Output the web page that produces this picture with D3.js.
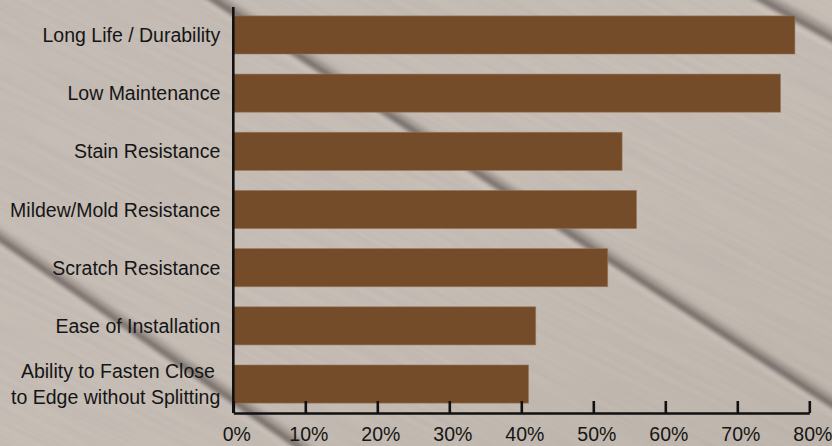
<!DOCTYPE html>
<html>
<head>
<meta charset="utf-8">
<script src="https://cdn.jsdelivr.net/npm/d3@7"></script>
<style>
  html, body { margin: 0; padding: 0; background: #c3bab2; }
  svg { display: block; }
  text { font-family: "Liberation Sans", Arial, Helvetica, sans-serif; fill: #151515; }
</style>
</head>
<body>
<div id="chart"></div>
<script>
// ---- data ----
const categories = [
  "Long Life / Durability",
  "Low Maintenance",
  "Stain Resistance",
  "Mildew/Mold Resistance",
  "Scratch Resistance",
  "Ease of Installation",
  "Ability to Fasten Close \nto Edge without Splitting"
];
const values = [78, 76, 54, 56, 52, 42, 41];
const xTicks = [0, 10, 20, 30, 40, 50, 60, 70, 80];
const xTickLabels = ["0%", "10%", "20%", "30%", "40%", "50%", "60%", "70%", "80%"];

const W = 832, H = 446;
const margin = {left: 233.3, right: 22.7, top: 6, bottom: 33};

const svg = d3.select("#chart").append("svg")
  .attr("width", W).attr("height", H);

// ---- background: decking boards ----
const defs = svg.append("defs");
const grad = defs.append("linearGradient").attr("id", "bgGrad")
  .attr("x1", "0").attr("y1", "0").attr("x2", "1").attr("y2", "1");
grad.append("stop").attr("offset", "0%").attr("stop-color", "#c5bcb5");
grad.append("stop").attr("offset", "50%").attr("stop-color", "#c7beb6");
grad.append("stop").attr("offset", "100%").attr("stop-color", "#bfb6ad");

const grain = defs.append("filter").attr("id", "grain")
  .attr("x", 0).attr("y", 0).attr("width", "100%").attr("height", "100%");
grain.append("feTurbulence").attr("type", "fractalNoise")
  .attr("baseFrequency", "0.008 0.2").attr("numOctaves", 3).attr("seed", 7);
grain.append("feColorMatrix").attr("type", "matrix")
  .attr("values", "0 0 0 0 0.40  0 0 0 0 0.37  0 0 0 0 0.35  0 0 0 -1.4 0.95");

const blur = defs.append("filter").attr("id", "blur")
  .attr("x", "-20%").attr("y", "-20%").attr("width", "140%").attr("height", "140%");
blur.append("feGaussianBlur").attr("stdDeviation", 2.5);

const bg = svg.append("g").attr("class", "background");
bg.append("rect").attr("width", W).attr("height", H).attr("fill", "url(#bgGrad)");
bg.append("rect")
  .attr("x", -400).attr("y", -400).attr("width", 1700).attr("height", 1300)
  .attr("transform", "rotate(27 416 223)")
  .attr("filter", "url(#grain)")
  .attr("opacity", 0.28);

const gaps = [
  [[205, -6], [420, 135], [620, 267], [845, 413]],
  [[755, -4], [845, 46]],
  [[-10, 232], [120, 322], [240, 405], [310, 455]]
];
const gapLine = d3.line().curve(d3.curveBasis);
gaps.forEach(g => {
  bg.append("path").attr("d", gapLine(g.map(p => [p[0], p[1] + 6])))
    .attr("fill", "none").attr("stroke", "#ddd5cd").attr("stroke-width", 5)
    .attr("opacity", 0.6).attr("filter", "url(#blur)");
  bg.append("path").attr("d", gapLine(g.map(p => [p[0], p[1] - 3])))
    .attr("fill", "none").attr("stroke", "#857b74").attr("stroke-width", 12)
    .attr("opacity", 0.5).attr("filter", "url(#blur)");
  bg.append("path").attr("d", gapLine(g))
    .attr("fill", "none").attr("stroke", "#3e3634").attr("stroke-width", 3.5)
    .attr("opacity", 0.7).attr("filter", "url(#blur)");
});

// ---- scales ----
const x = d3.scaleLinear().domain([0, 80]).range([margin.left, W - margin.right]);
const y = d3.scaleBand().domain(categories)
  .range([margin.top, H - margin.bottom])
  .paddingInner(0.345).paddingOuter(0.17);

// ---- bars ----
svg.append("g").selectAll("rect").data(values).join("rect")
  .attr("x", x(0))
  .attr("y", (d, i) => y(categories[i]))
  .attr("width", d => x(d) - x(0))
  .attr("height", y.bandwidth())
  .attr("fill", "#744c29")
  .attr("stroke", "#9a7558").attr("stroke-width", 0.8).attr("stroke-opacity", 0.7);

// ---- y axis (line only) + labels ----
const yAxis = svg.append("g").attr("transform", `translate(${x(0)},0)`)
  .call(d3.axisLeft(y).tickSize(0).tickFormat(""));
yAxis.select(".domain").attr("stroke", "#111").attr("stroke-width", 2.6)
  .attr("d", `M0,${margin.top + 1}V${H - margin.bottom}`);

const labels = svg.append("g").selectAll("text").data(categories).join("text")
  .attr("text-anchor", "end")
  .attr("font-size", "19.5px")
  .style("white-space", "pre")
  .attr("transform", d => `translate(${x(0) - 13},${y(d) + y.bandwidth() / 2})`);
labels.each(function(d) {
  const lines = d.split("\n");
  const lh = 25.5;
  const t = d3.select(this);
  lines.forEach((ln, k) => {
    t.append("tspan").attr("x", 0)
      .attr("y", 7 + (k - (lines.length - 1) / 2) * lh)
      .text(ln);
  });
});

// ---- x axis ----
const xAxis = svg.append("g").attr("transform", `translate(0,${H - margin.bottom})`)
  .call(d3.axisBottom(x).tickValues(xTicks).tickSize(-12).tickSizeOuter(0)
    .tickFormat((d, i) => xTickLabels[i]));
xAxis.select(".domain").attr("stroke", "#111").attr("stroke-width", 2.6);
xAxis.selectAll(".tick line").attr("stroke", "#111").attr("stroke-width", 2.6);
xAxis.selectAll(".tick text")
  .attr("font-size", "19.5px")
  .attr("font-family", "Liberation Sans, Arial, sans-serif")
  .attr("fill", "#151515")
  .attr("dx", 3)
  .attr("y", 28).attr("dy", 0);
</script>
</body>
</html>
